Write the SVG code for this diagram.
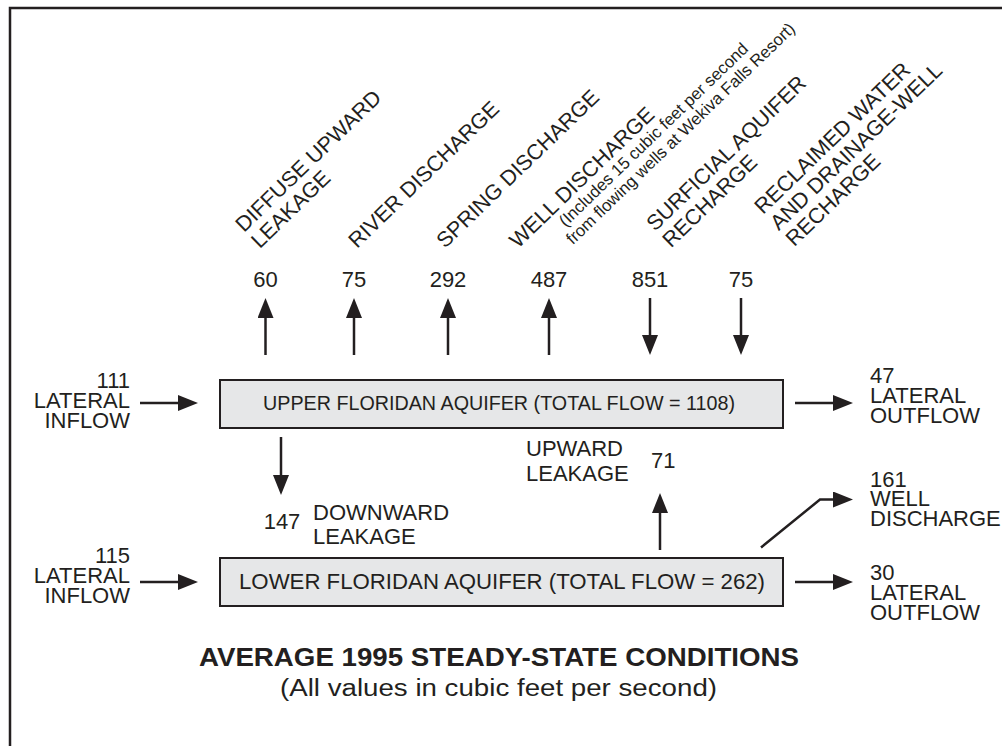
<svg xmlns="http://www.w3.org/2000/svg" width="1002" height="746" viewBox="0 0 1002 746">
<defs>
<style>
text{font-family:"Liberation Sans",Arial,Helvetica,sans-serif;fill:#231f20}
.lbl{font-size:22px}
.num{font-size:22px;text-anchor:middle}
.rot{font-size:21.5px}
.small{font-size:16.8px}
.box{fill:#e6e7e8;stroke:#231f20;stroke-width:2}
.conn line,.conn polyline{stroke:#231f20;stroke-width:2.5;fill:none;marker-end:url(#ah)}
.end{text-anchor:end}
</style>
<marker id="ah" markerUnits="userSpaceOnUse" viewBox="0 0 20 16" refX="3" refY="8" markerWidth="20" markerHeight="16" orient="auto">
<path d="M0,0 L20,8 L0,16 z" fill="#231f20"/>
</marker>
</defs>
<rect width="1002" height="746" fill="#fff"/>
<path d="M10,746 V8 H1002" fill="none" stroke="#231f20" stroke-width="2.5"/>

<g id="upper-aquifer">
<rect class="box" x="220" y="380" width="563" height="48"/>
<text x="499" y="409.5" font-size="19.5" text-anchor="middle" textLength="472" lengthAdjust="spacingAndGlyphs">UPPER FLORIDAN AQUIFER (TOTAL FLOW = 1108)</text>
</g>
<g id="lower-aquifer">
<rect class="box" x="220" y="558" width="563" height="48"/>
<text x="502" y="589" font-size="22" text-anchor="middle" textLength="526" lengthAdjust="spacingAndGlyphs">LOWER FLORIDAN AQUIFER (TOTAL FLOW = 262)</text>
</g>

<g id="diffuse-upward-leakage">
<text class="rot" transform="translate(244,233) rotate(-44)"><tspan x="0" y="0">DIFFUSE UPWARD</tspan><tspan x="0" y="22.5">LEAKAGE</tspan></text>
<text class="num" x="265.5" y="287">60</text>
</g>
<g id="river-discharge">
<text class="rot" transform="translate(357,249) rotate(-44)">RIVER DISCHARGE</text>
<text class="num" x="354" y="287">75</text>
</g>
<g id="spring-discharge">
<text class="rot" transform="translate(445,249) rotate(-44)">SPRING DISCHARGE</text>
<text class="num" x="448" y="287">292</text>
</g>
<g id="well-discharge">
<text class="rot" transform="translate(518,249) rotate(-44)">WELL DISCHARGE<tspan class="small" x="49" y="17.5">(Includes 15 cubic feet per second</tspan><tspan class="small" x="42" y="35.5">from flowing wells at Wekiva Falls Resort)</tspan></text>
<text class="num" x="549" y="287">487</text>
</g>
<g id="surficial-recharge">
<text class="rot" transform="translate(655,232) rotate(-44)"><tspan x="0" y="0">SURFICIAL AQUIFER</tspan><tspan x="0" y="23">RECHARGE</tspan></text>
<text class="num" x="650" y="287">851</text>
</g>
<g id="reclaimed-recharge">
<text class="rot" transform="translate(763,215) rotate(-44)"><tspan x="0" y="0">RECLAIMED WATER</tspan><tspan x="0" y="22.5">AND DRAINAGE-WELL</tspan><tspan x="0" y="45">RECHARGE</tspan></text>
<text class="num" x="741" y="287">75</text>
</g>

<g id="upper-lateral-inflow">
<text class="lbl end"><tspan x="130" y="388">111</tspan><tspan x="130" y="408">LATERAL</tspan><tspan x="130" y="428">INFLOW</tspan></text>
</g>
<g id="lower-lateral-inflow">
<text class="lbl end"><tspan x="130" y="563">115</tspan><tspan x="130" y="583">LATERAL</tspan><tspan x="130" y="602.5">INFLOW</tspan></text>
</g>
<g id="upper-lateral-outflow">
<text class="lbl"><tspan x="870" y="383">47</tspan><tspan x="870" y="403">LATERAL</tspan><tspan x="870" y="423">OUTFLOW</tspan></text>
</g>
<g id="lower-well-discharge">
<text class="lbl"><tspan x="870" y="487">161</tspan><tspan x="870" y="506">WELL</tspan><tspan x="870" y="526">DISCHARGE</tspan></text>
</g>
<g id="lower-lateral-outflow">
<text class="lbl"><tspan x="870" y="580">30</tspan><tspan x="870" y="600">LATERAL</tspan><tspan x="870" y="620">OUTFLOW</tspan></text>
</g>
<g id="downward-leakage">
<text class="lbl" x="282" y="528.5" text-anchor="middle">147</text>
<text class="lbl"><tspan x="313" y="519.5">DOWNWARD</tspan><tspan x="313" y="544">LEAKAGE</tspan></text>
</g>
<g id="upward-leakage">
<text class="lbl"><tspan x="526" y="456">UPWARD</tspan><tspan x="526" y="481">LEAKAGE</tspan></text>
<text class="lbl" x="651" y="468">71</text>
</g>

<g id="connectors" class="conn">
<line x1="265.5" y1="355" x2="265.5" y2="315"/>
<line x1="354" y1="355" x2="354" y2="315"/>
<line x1="448" y1="355" x2="448" y2="315"/>
<line x1="549" y1="355" x2="549" y2="315"/>
<line x1="650" y1="298" x2="650" y2="338"/>
<line x1="741" y1="298" x2="741" y2="338"/>
<line x1="140" y1="403" x2="181" y2="403"/>
<line x1="140" y1="582" x2="181" y2="582"/>
<line x1="795" y1="403" x2="836" y2="403"/>
<line x1="795" y1="582" x2="836" y2="582"/>
<polyline points="761,547.5 820,499.5 836,499.5"/>
<line x1="281" y1="437" x2="281" y2="478"/>
<line x1="660" y1="550" x2="660" y2="510"/>
</g>

<g id="title">
<text x="499" y="666" font-size="26" font-weight="bold" text-anchor="middle" textLength="600" lengthAdjust="spacingAndGlyphs">AVERAGE 1995 STEADY-STATE CONDITIONS</text>
<text x="498.5" y="696" font-size="23" text-anchor="middle" textLength="437" lengthAdjust="spacingAndGlyphs">(All values in cubic feet per second)</text>
</g>
</svg>
